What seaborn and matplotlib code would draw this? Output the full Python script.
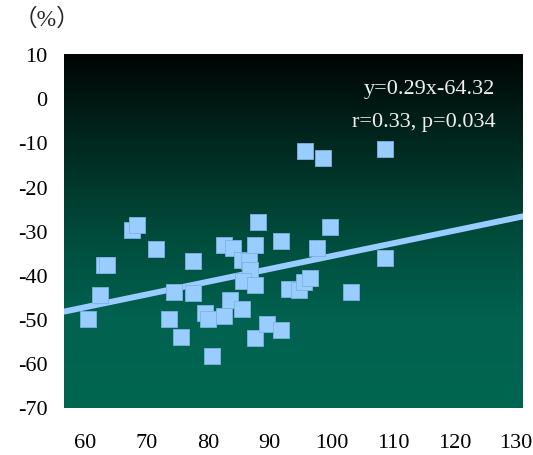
import numpy as np
import pandas as pd
import matplotlib
matplotlib.use("Agg")
import matplotlib.pyplot as plt
import matplotlib.transforms as mtransforms
import seaborn as sns
from matplotlib.colors import LinearSegmentedColormap

# ---- data ----
x_vals = [59.7, 61.7, 62.3, 62.8, 66.8, 67.7, 70.7, 73.7, 72.8, 74.8,
          76.7, 76.7, 78.7, 79.2, 79.8, 81.8, 82.8, 81.8, 83.3, 84.7,
          84.7, 85.9, 86.0, 84.8, 86.8, 87.3, 86.8, 86.8, 88.8, 91.0,
          91.0, 92.3, 94.0, 94.8, 95.7, 94.85, 97.8, 107.9, 107.9, 102.4,
          99.0, 96.9]
y_vals = [-49.9, -44.4, -37.5, -37.5, -29.7, -28.5, -34.0, -43.6, -49.9, -53.8,
          -36.7, -44.0, -48.4, -49.9, -58.3, -49.1, -45.6, -33.1, -33.6, -47.5,
          -36.4, -36.6, -38.8, -41.2, -42.1, -27.8, -33.1, -54.1, -51.0, -52.2,
          -32.1, -43.1, -43.3, -41.4, -40.5, -11.8, -13.4, -11.2, -35.9, -43.6,
          -29.0, -33.7]
slope = 0.29
intercept = -64.32
eq_lines = ["y=0.29x-64.32", "r=0.33, p=0.034"]
x_ticks = [60, 70, 80, 90, 100, 110, 120, 130]
x_ticklabels = ["60", "70", "80", "90", "100", "110", "120", "130"]
y_ticks = [10, 0, -10, -20, -30, -40, -50, -60, -70]
y_ticklabels = ["10", "0", "-10", "-20", "-30", "-40", "-50", "-60", "-70"]
unit_label = "（%）"

df = pd.DataFrame({"x": x_vals, "y": y_vals})

sns.set_theme(style="white")
plt.rcParams["font.family"] = ["Liberation Serif", "DejaVu Serif"]
plt.rcParams["axes.unicode_minus"] = False

W, H = 533, 455
fig = plt.figure(figsize=(W / 100, H / 100), dpi=100)
ax = fig.add_axes([64 / W, 1 - 408 / H, (523 - 64) / W, (408 - 54) / H])

xlim = (55.8, 130.3)
ylim = (-70, 10.3)

# gradient background (black at top to teal, reaching full teal near bottom)
cmap = LinearSegmentedColormap.from_list(
    "bg", [(0.0, "#000504"), (0.25, "#00281f"), (0.5, "#004a3a"),
           (0.75, "#006250"), (1.0, "#00664f")])
grad = np.linspace(0, 1, 256).reshape(-1, 1)
ax.imshow(grad, cmap=cmap, aspect="auto", origin="upper",
          extent=[xlim[0], xlim[1], ylim[0], ylim[1]], zorder=0)

# regression line
lx = np.array(xlim)
line_df = pd.DataFrame({"x": lx, "y": slope * lx + intercept})
sns.lineplot(data=line_df, x="x", y="y", ax=ax, color="#99ccff",
             linewidth=4.3, zorder=2)

# points
sns.scatterplot(data=df, x="x", y="y", ax=ax, marker="s", s=118,
                color="#99ccff", edgecolor="#7fb2e0", linewidth=0.6, zorder=3)

ax.set_xlim(*xlim)
ax.set_ylim(*ylim)
ax.set_xticks(x_ticks)
ax.set_xticklabels(x_ticklabels)
ax.set_yticks(y_ticks)
ax.set_yticklabels(y_ticklabels)
ax.set_xlabel("")
ax.set_ylabel("")
for s in ax.spines.values():
    s.set_visible(False)
ax.tick_params(axis="both", direction="in", length=7.5,
               width=2.8, labelsize=16, labelcolor="black", color="white")
ax.tick_params(axis="y", pad=12)
ax.tick_params(axis="x", pad=19)
shift = mtransforms.ScaledTranslation(-5 / 100, 0, fig.dpi_scale_trans)
for lab in ax.get_xticklabels():
    lab.set_transform(lab.get_transform() + shift)
for lab in ax.get_xticklabels() + ax.get_yticklabels():
    lab.set_fontfamily(["Liberation Serif", "DejaVu Serif"])

ax.text(125.8, 2.2, eq_lines[0], ha="right", va="center", fontsize=16,
        color="#f0f0f0", zorder=4)
ax.text(125.8, -5.2, eq_lines[1], ha="right", va="center", fontsize=16,
        color="#f0f0f0", zorder=4)

fig.text(47 / W, 1 - 20 / H, unit_label, ha="center", va="center", fontsize=17,
         family=["Liberation Serif", "Noto Sans CJK JP"])

fig.savefig("out.png", dpi=100)
